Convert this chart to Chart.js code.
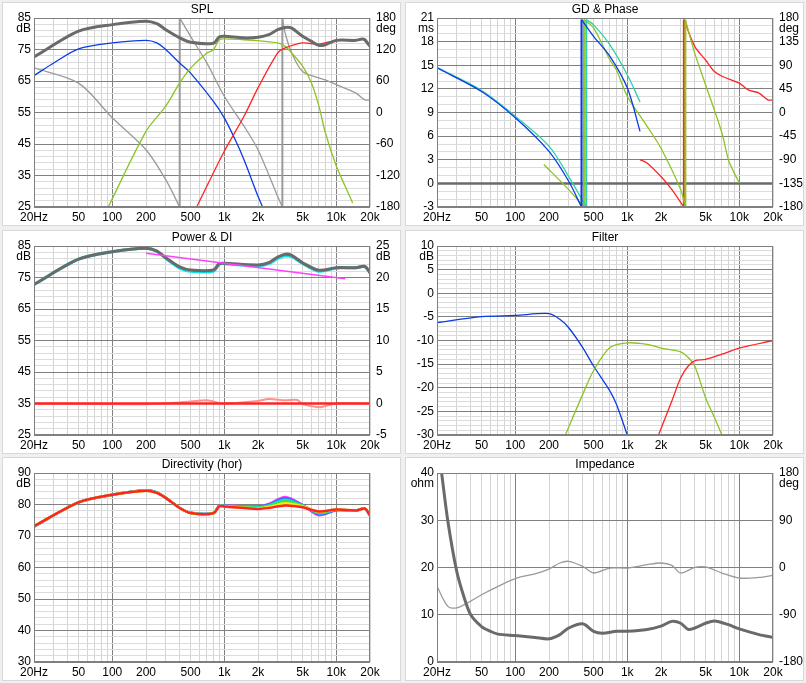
<!DOCTYPE html>
<html>
<head>
<meta charset="utf-8">
<script src="https://cdn.jsdelivr.net/npm/chart.js@4.4.1/dist/chart.umd.min.js"></script>
<style>
  body { margin: 0; background: #f0f0f0; }
  .panel { position: absolute; width: 403px; height: 228px; }
</style>
</head>
<body>
<div class="panel" style="left:0;top:0"><canvas id="c1"></canvas></div>
<div class="panel" style="left:403px;top:0"><canvas id="c2"></canvas></div>
<div class="panel" style="left:0;top:228px"><canvas id="c3"></canvas></div>
<div class="panel" style="left:403px;top:228px"><canvas id="c4"></canvas></div>
<div class="panel" style="left:0;top:455px"><canvas id="c5"></canvas></div>
<div class="panel" style="left:403px;top:455px"><canvas id="c6"></canvas></div>
<script>
// ---- frequency axis ----
const freqTicks = [20,30,40,50,60,70,80,90,100,200,300,400,500,600,700,800,900,
  1000,2000,3000,4000,5000,6000,7000,8000,9000,10000,20000];
const freqLabels = {20:'20Hz',50:'50',100:'100',200:'200',500:'500',1000:'1k',
  2000:'2k',5000:'5k',10000:'10k',20000:'20k'};

// ---- SPL ----
const splTotalF = [20,50,100,200,250,300,400,500,800,900,1000,1500,2000,2500,3000,3500,4000,5000,6000,7000,8000,10000,15000,17500,20000];
const splTotal  = [72.6,80.8,82.9,84,83.2,81.3,78.7,77.3,77,79,79.2,78.7,78.9,79.7,81.3,82,81.8,79.2,77.6,76.3,76.5,77.9,77.9,78.3,76];
const splWooF = [20,30,50,100,200,250,300,400,500,800,1000,1250,1500,2000,2200];
const splWoo  = [66.7,70.7,75.2,77.1,77.9,77.1,75,70.7,67.5,58.5,53.3,46.4,40,28.4,25];
const splMidF = [92,200,300,400,500,700,800,900,1000,1500,2000,3000,3500,4000,5000,6000,7000,8000,10000,12000,14000];
const splMid  = [25,49,57,64.4,69.1,73.9,74.9,78.1,78.4,78.1,77.8,77.1,76,73.9,69.7,64.4,57,48.5,38,31.6,26.3];
const splTwF = [566,1000,1500,2000,3000,3500,5000,7000,10000,15000,18000,20000];
const splTw  = [25,42.7,53.8,62.8,73.9,75.5,77.1,76.7,77.9,77.9,78.4,76];
const splPhF = [20,50,100,200,300,400,400,500,700,1000,1500,2000,3000,3300,3300,3500,4000,5000,7000,8000,10000,15000,18000,20000];
const splPh  = [85,56,-10,-71,-128,-180,180,145,94,31,-26,-71,-160,-180,180,151,113,78,66,62,53,37,24,24];

// ---- GD & Phase ----
const gdF = [20,20000];
const gd  = [0,0];
const phWooF = [20,50,100,200,300,390,390,500,700,1000,1300];
const phWoo  = [85,40,-10,-74,-131,-180,177,145,107,47,-36];
const phCyanF = [20,50,100,200,300,430,430,500,700,1000,1300];
const phCyan  = [86,42,-7,-64,-122,-180,177,167,129,72,20];
const phMidF = [180,300,410,410,500,700,800,1000,1500,2000,3000,3300,3300,4000,5000,7000,8000,9000,10000];
const phMid  = [-99,-147,-180,177,161,100,81,31,-26,-68,-147,-180,177,113,53,-39,-90,-115,-134];
const phTwF = [1300,1500,2000,2500,3200,3200,4000,5000,6000,7000,10000,12000,15000,18000,20000];
const phTw  = [-90,-96,-122,-147,-180,177,126,100,78,69,56,43,37,24,24];

// ---- Power & DI ----
const powF = [20,50,100,200,250,300,400,500,800,900,1000,2000,2500,3000,3500,4000,5000,7000,10000,15000,18000,20000];
const powGray = [72.8,80.8,83.2,84.3,83.4,81.3,78.4,77.4,77.4,79.4,79.5,79,79.7,81.5,82.4,82,79.7,77.3,78.1,78.1,78.5,76.5];
const powCyan = [72.8,80.8,83.2,84.3,83.4,81.1,78.0,77.0,77.0,79.2,79.4,78.7,79.4,81.1,81.9,81.6,79.5,77.0,78.0,78.1,78.5,76.5];
const diSlopeF = [200,12000];
const diSlope  = [82.7,74.6];
const diF = [20,200,500,700,1000,2000,2500,3500,4500,5000,7000,8000,10000,20000];
const di  = [0,-0.1,0.3,0.5,0,0.4,0.7,0.5,0.55,-0.1,-0.6,-0.4,0,0];

// ---- Filter ----
const fWooF = [20,50,100,200,250,300,400,500,700,800,1000];
const fWoo  = [-6.2,-4.95,-4.7,-4.3,-5.5,-7.3,-11.5,-15.4,-20.7,-23.5,-30];
const fMidF = [280,400,500,700,1000,1500,2000,3000,3500,4000,5000,6000,7000];
const fMid  = [-30,-21.4,-16.4,-11.5,-10.5,-10.8,-11.6,-12.4,-13.6,-15.4,-22.1,-26.3,-30];
const fTwF = [1900,2500,3000,3500,4000,5000,7000,10000,20000];
const fTw  = [-30,-22.8,-17.9,-15.4,-14.3,-14,-12.9,-11.6,-10];

// ---- Directivity ----
const dirF = [20,50,100,200,250,300,400,500,800,900,1000,2000,2500,3500,5000,7000,10000,15000,18000,20000];
const dirMag = [73.0,80.7,83.1,84.5,83.8,82.1,78.9,77.4,77.3,79.6,79.6,79.4,80.2,82.4,79.9,76.6,78.2,78.1,78.7,76.5];
const dirBlu = [73.0,80.7,83.1,84.5,83.8,82.1,78.9,77.4,77.3,79.6,79.6,79.3,80.0,82.0,79.8,76.9,78.2,78.1,78.7,76.5];
const dirCya = [73.0,80.7,83.1,84.5,83.8,82.1,78.9,77.4,77.3,79.5,79.5,79.1,79.7,81.5,79.7,77.2,78.3,78.1,78.7,76.5];
const dirGrn = [73.1,80.7,83.1,84.4,83.7,82.1,78.9,77.3,77.2,79.5,79.5,78.9,79.5,81.0,79.6,77.5,78.3,78.1,78.7,76.5];
const dirYel = [73.1,80.7,83.1,84.4,83.7,82.1,78.9,77.3,77.2,79.4,79.4,78.8,79.2,80.4,79.4,77.7,78.4,78.1,78.7,76.5];
const dirRed = [73.1,80.7,83.1,84.4,83.7,82.1,78.9,77.3,77.2,79.4,79.4,78.6,78.9,79.7,79.1,77.8,78.4,78.1,78.7,76.5];

// ---- Impedance ----
const impF = [22,25,30,35,40,50,60,70,100,150,200,250,300,400,500,600,800,1000,1500,2000,2500,3000,3500,4000,5000,6000,8000,10000,15000,20000];
const imp  = [40,29.8,19.2,13.6,10,7.5,6.5,5.9,5.6,5.2,4.9,5.8,7.2,8.1,6.5,6.1,6.5,6.5,6.9,7.6,8.6,8.2,6.9,7.2,8.2,8.7,7.9,7,5.8,5.2];
const impPhF = [20,25,30,40,50,70,100,150,200,250,300,400,500,700,1000,1500,2000,2500,3000,4000,5000,7000,10000,15000,20000];
const impPh  = [-36,-74,-77,-64,-52,-36,-21,-12,-3,8.6,11.7,2,-10.5,-1,-1,5.4,8.6,4,-10.5,0.3,1,-10.5,-20,-19,-15];

const DARK = '#6a6a6a', GRAY = '#9a9a9a', BLUE = '#0a3ce6', GREEN = '#8cc424',
      RED = '#ff2424', TEAL = '#30d0a8', CYAN = '#00e8f0', MAG = '#ff40ff';

function pts(fs, vs) { return fs.map((f, i) => ({x: f, y: vs[i]})); }

function line(fs, vs, color, width, axis) {
  return { data: pts(fs, vs), borderColor: color, borderWidth: width || 1.3,
           yAxisID: axis || 'y', pointRadius: 0, tension: 0.3, fill: false };
}

// phase curves: split at wrap points, join with a vertical line
function phase(fs, vs, color, axis) {
  const out = [];
  let sf = [fs[0]], sv = [vs[0]];
  for (let i = 1; i < fs.length; i++) {
    if (Math.abs(vs[i] - vs[i - 1]) > 300) {
      out.push(line(sf, sv, color, 1.3, axis));
      out.push(Object.assign(line([fs[i-1], fs[i]], [vs[i-1], vs[i]], color, 2, axis), {tension: 0}));
      sf = []; sv = [];
    }
    sf.push(fs[i]); sv.push(vs[i]);
  }
  out.push(line(sf, sv, color, 1.3, axis));
  return out;
}

function makeChart(id, o) {
  const majors = [];
  for (let v = o.min; v <= o.max + 1e-9; v += o.major) majors.push(Math.round(v * 100) / 100);
  const isMajor = v => majors.some(m => Math.abs(m - v) < 1e-6);
  const panelPlugin = {
    id: 'panel',
    beforeDraw(c) {
      const ctx = c.ctx;
      ctx.save();
      ctx.fillStyle = '#f0f0f0'; ctx.fillRect(0, 0, c.width, c.height);
      ctx.fillStyle = '#ffffff'; ctx.fillRect(2, 2, 399, 224);
      ctx.strokeStyle = '#d8d8d8'; ctx.strokeRect(2.5, 2.5, 398, 223);
      ctx.restore();
    },
    afterDraw(c) {
      const ctx = c.ctx, a = c.chartArea;
      ctx.save();
      ctx.strokeStyle = '#808080'; ctx.lineWidth = 1;
      ctx.strokeRect(a.left + 0.5, a.top + 0.5, a.right - a.left - 1, a.bottom - a.top - 1);
      ctx.fillStyle = '#000'; ctx.font = '12px "Liberation Sans", Arial, sans-serif';
      ctx.textAlign = 'center'; ctx.textBaseline = 'middle';
      ctx.fillText(o.title, (a.left + a.right) / 2, 10);
      ctx.textAlign = 'right'; ctx.fillText(o.unit, 31, 29);
      if (o.unit2) { ctx.textAlign = 'left'; ctx.fillText(o.unit2, 376, 29); }
      ctx.restore();
    }
  };
  const font = { family: '"Liberation Sans", Arial, sans-serif', size: 12 };
  // first dataset is painted on top in Chart.js, so the list is reversed
  return new Chart(document.getElementById(id), {
    type: 'line',
    data: { datasets: o.datasets.slice().reverse() },
    plugins: [panelPlugin],
    options: {
      animation: false, responsive: true, maintainAspectRatio: false,
      layout: { padding: { top: 18 } },
      plugins: { legend: { display: false }, tooltip: { enabled: false } },
      scales: {
        x: {
          type: 'logarithmic', min: 20, max: 20000,
          afterBuildTicks: s => { s.ticks = freqTicks.map(v => ({ value: v })); },
          afterFit: s => { s.height = 21; },
          ticks: { autoSkip: false, maxRotation: 0, color: '#000', font, padding: 3,
                   callback: v => freqLabels[v] || '' },
          grid: { tickLength: 0, color: c => [100, 1000, 10000].includes(c.tick && c.tick.value) ? '#808080' : '#d4d4d4' },
          border: { display: false }
        },
        y: {
          min: o.min, max: o.max, position: 'left',
          afterBuildTicks: s => {
            const t = [];
            for (let v = o.min; v <= o.max + 1e-9; v += o.minor) t.push({ value: Math.round(v * 100) / 100 });
            s.ticks = t;
          },
          afterFit: s => { s.width = 34; },
          ticks: { autoSkip: false, color: '#000', font, padding: 3,
                   callback: v => isMajor(v) ? String(v) : '' },
          grid: { tickLength: 0, color: c => isMajor(c.tick.value) ? '#808080' : '#dcdcdc' },
          border: { display: false }
        },
        y2: {
          min: o.rmin, max: o.rmax, position: 'right',
          afterBuildTicks: s => {
            const t = [];
            if (o.rstep) for (let v = o.rmin; v <= o.rmax + 1e-9; v += o.rstep) t.push({ value: v });
            s.ticks = t;
          },
          afterFit: s => { s.width = 33; },
          ticks: { autoSkip: false, color: '#000', font, padding: 6 },
          grid: { drawOnChartArea: false, tickLength: 0 },
          border: { display: false }
        }
      }
    }
  });
}

makeChart('c1', {
  title: 'SPL', unit: 'dB', unit2: 'deg', min: 25, max: 85, major: 10, minor: 2,
  rmin: -180, rmax: 180, rstep: 60,
  datasets: [
    ...phase(splPhF, splPh, GRAY, 'y2'),
    line(splWooF, splWoo, BLUE),
    line(splMidF, splMid, GREEN),
    line(splTwF, splTw, RED),
    line(splTotalF, splTotal, DARK, 3)
  ]
});

makeChart('c2', {
  title: 'GD & Phase', unit: 'ms', unit2: 'deg', min: -3, max: 21, major: 3, minor: 1,
  rmin: -180, rmax: 180, rstep: 45,
  datasets: [
    line(gdF, gd, DARK, 2.5),
    ...phase(phTwF, phTw, RED, 'y2'),
    ...phase(phMidF, phMid, GREEN, 'y2'),
    ...phase(phCyanF, phCyan, TEAL, 'y2'),
    ...phase(phWooF, phWoo, BLUE, 'y2')
  ]
});

makeChart('c3', {
  title: 'Power & DI', unit: 'dB', unit2: 'dB', min: 25, max: 85, major: 10, minor: 2,
  rmin: -5, rmax: 25, rstep: 5,
  datasets: [
    line(diF, di, '#ff9090', 2, 'y2'),
    line([20, 20000], [0, 0], RED, 2.5, 'y2'),
    line(powF, powCyan, CYAN, 3),
    line(powF, powGray, DARK, 3),
    line(diSlopeF, diSlope, MAG, 1.3)
  ]
});

makeChart('c4', {
  title: 'Filter', unit: 'dB', min: -30, max: 10, major: 5, minor: 1,
  rmin: 0, rmax: 1, rstep: 0,
  datasets: [
    line(fWooF, fWoo, BLUE),
    line(fMidF, fMid, GREEN),
    line(fTwF, fTw, RED)
  ]
});

makeChart('c5', {
  title: 'Directivity (hor)', unit: 'dB', min: 30, max: 90, major: 10, minor: 2,
  rmin: 0, rmax: 1, rstep: 0,
  datasets: [
    line(dirF, dirMag, MAG, 2.5),
    line(dirF, dirBlu, '#4060ff', 2.5),
    line(dirF, dirCya, '#00e0e0', 2.5),
    line(dirF, dirGrn, '#40e040', 2.5),
    line(dirF, dirYel, '#f0f000', 2.5),
    line(dirF, dirRed, RED, 2.5)
  ]
});

makeChart('c6', {
  title: 'Impedance', unit: 'ohm', unit2: 'deg', min: 0, max: 40, major: 10, minor: 10,
  rmin: -180, rmax: 180, rstep: 90,
  datasets: [
    line(impPhF, impPh, GRAY, 1.3, 'y2'),
    line(impF, imp, DARK, 3)
  ]
});
</script>
</body>
</html>
